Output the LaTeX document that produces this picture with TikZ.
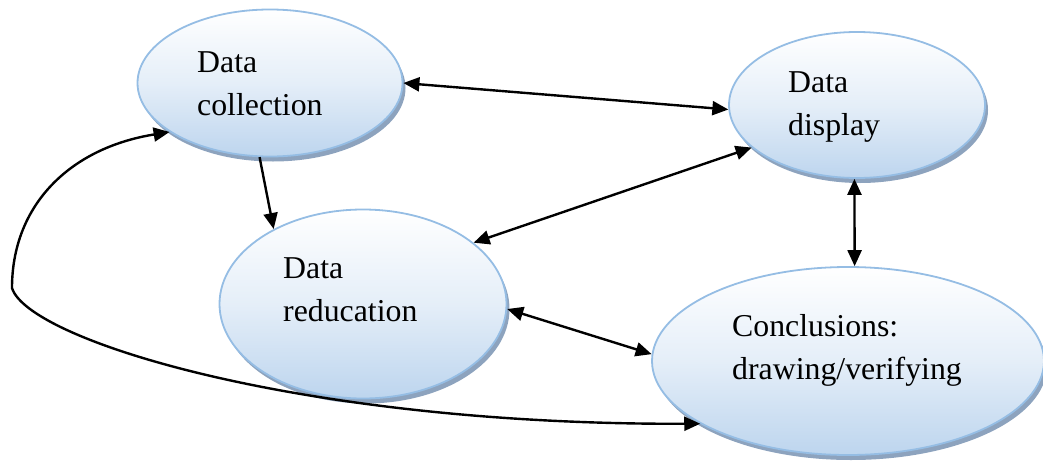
\documentclass[tikz,border=0pt]{standalone}
\usepackage{fontspec}
\setmainfont{Liberation Serif}
\usetikzlibrary{shapes.geometric, shadows, arrows.meta}
\definecolor{phaseline}{HTML}{95BDE4}
\definecolor{phasefill}{HTML}{BDD5EE}
\definecolor{phaseshade}{HTML}{8DA3BE}
\tikzset{
>={Triangle[length=16pt,width=14pt]}, % filled triangular heads
phase/.style={ellipse, draw=phaseline, line width=1.8pt, inner sep=0pt,
  top color=white, bottom color=phasefill, middle color=phasefill!40!white,
  drop shadow={shadow xshift=3pt, shadow yshift=-5pt, fill=phaseshade, opacity=1}}, % the blue ellipses
phasetext/.style={anchor=north west, inner sep=0pt, align=left,
  font=\fontsize{31.8}{43}\selectfont}, % text set inside an ellipse
link/.style={line width=2.4pt, black}, % the connectors
}

\begin{document}
\begin{tikzpicture}[x=1pt, y=1pt]
                \useasboundingbox (0,0) rectangle (1043,-463);

                \node[phase, minimum width=265pt, minimum height=147pt] (dc) at (270,-83) {};
                \node[phase, minimum width=256pt, minimum height=146pt] (dd) at (857,-105) {};
                \node[phase, minimum width=287pt, minimum height=189pt] (dr) at (363,-304) {};
                \node[phase, minimum width=392pt, minimum height=188pt] (cd) at (848,-361) {};

                \node[phasetext] (dc-txt) at ([shift={(-73,32)}]dc.center) {Data\\collection};
                \node[phasetext] (dd-txt) at ([shift={(-69,34)}]dd.center) {Data\\display};
                \node[phasetext] (dr-txt) at ([shift={(-80,47)}]dr.center) {Data\\reducation};
                \node[phasetext] (cd-txt) at ([shift={(-116,47)}]cd.center) {Conclusions:\\drawing/verifying};

                \draw (dc.0) edge[link, <->] (dd.182);
                \draw (dc.262) edge[link, ->] (dr.140);
                \draw (dr.29) edge[link, <->] (dd.202);
                \draw (dd.268) edge[link, <->] (cd.86);
                \draw (dr.358) edge[link, <->] (cd.178);

                % long way back from the conclusions to the collection
                \coordinate (turn) at (12,-288);
                \draw[link, <->] (cd.203) .. controls (300,-425) and (28,-340) .. (turn)
                      .. controls (12,-205) and (70,-148) .. (dc.206);
            \end{tikzpicture}
\end{document}
